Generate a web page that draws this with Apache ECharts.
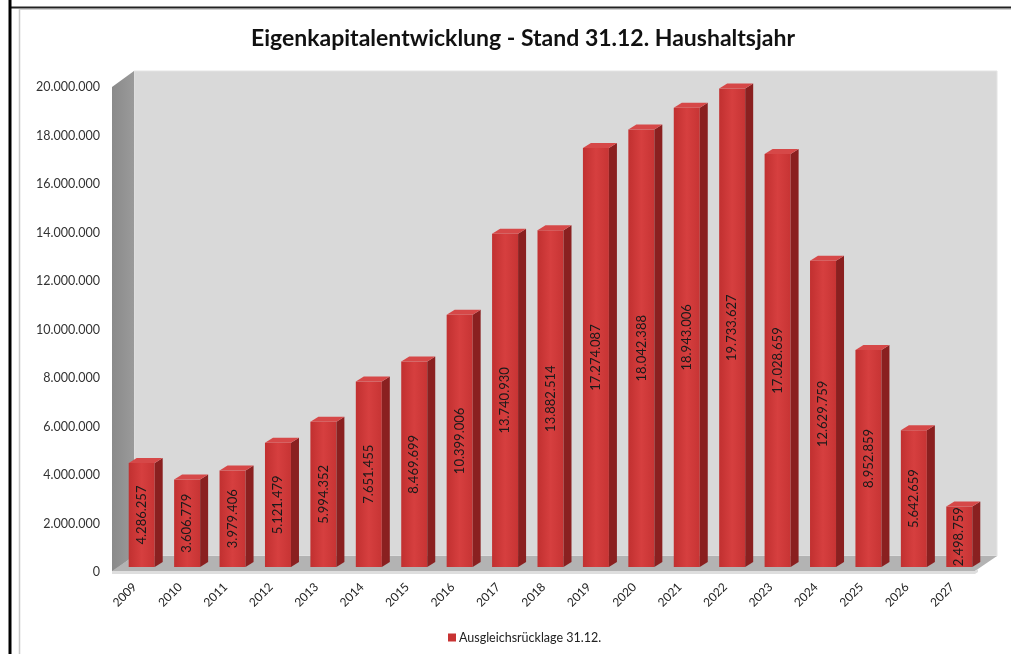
<!DOCTYPE html>
<html>
<head>
<meta charset="utf-8">
<script src="https://cdn.jsdelivr.net/npm/echarts@6/dist/echarts.min.js"></script>
<style>
  html, body { margin: 0; padding: 0; background: #fff; }
  #main { width: 1011px; height: 654px; }
</style>
</head>
<body>
<div id="main"></div>
<script>
var chart = echarts.init(document.getElementById('main'));

var years = ['2009', '2010', '2011', '2012', '2013', '2014', '2015', '2016', '2017', '2018',
  '2019', '2020', '2021', '2022', '2023', '2024', '2025', '2026', '2027'];
var ruecklage = [4286257, 3606779, 3979406, 5121479, 5994352, 7651455, 8469699, 10399006, 13740930, 13882514,
  17274087, 18042388, 18943006, 19733627, 17028659, 12629759, 8952859, 5642659, 2498759];
var yTicks = [0, 2000000, 4000000, 6000000, 8000000, 10000000, 12000000, 14000000, 16000000, 18000000, 20000000];

// german thousand separator
function fmt(v) {
  return String(Math.round(v)).replace(/\B(?=(\d{3})+(?!\d))/g, '.');
}

// depth of the 3d box
var DX = 22, DY = -16;

function renderWalls(params, api) {
  var cs = params.coordSys;
  var x0 = cs.x, x1 = cs.x + cs.width, yT = cs.y, yB = cs.y + cs.height;
  return {
    type: 'group',
    silent: true,
    children: [
      { type: 'rect', shape: { x: x0 + DX, y: yT + DY, width: cs.width, height: cs.height },
        style: { fill: '#d9d9d9', stroke: '#e4e4e4', lineWidth: 1 } },
      { type: 'polygon', shape: { points: [[x0, yT], [x0 + DX, yT + DY], [x0 + DX, yB + DY], [x0, yB]] },
        style: { fill: new echarts.graphic.LinearGradient(0, 0, 1, 0, [
          { offset: 0, color: '#8a8a8a' }, { offset: 1, color: '#9a9a9a' }]) } },
      { type: 'polygon', shape: { points: [[x0, yB - 1], [x1, yB - 1], [x1 + DX, yB + DY], [x0 + DX, yB + DY]] },
        style: { fill: '#b3b3b3' } },
      { type: 'polygon', shape: { points: [[x0, yB - 1], [x1, yB - 1], [x1 + 3, yB - 3], [x1 + 3, yB], [x1, yB + 2], [x0, yB + 2]] },
        style: { fill: '#dedede' } }
    ]
  };
}

function renderBar(params, api) {
  var idx = api.value(0), val = api.value(1);
  var top = api.coord([idx, val]);
  var base = api.coord([idx, 0]);
  var w = 26;
  var ox = 7, oy = -5, dx = 8, dy = -5;
  var xl = top[0] - w / 2 + ox, xr = xl + w;
  var yt = top[1] + oy, yb = base[1] + oy;
  return {
    type: 'group',
    children: [
      { type: 'rect', shape: { x: xl, y: yt, width: w, height: yb - yt },
        style: { fill: new echarts.graphic.LinearGradient(0, 0, 1, 0, [
          { offset: 0, color: '#c13030' }, { offset: 0.5, color: '#d63f3f' }, { offset: 1, color: '#c73434' }]) } },
      { type: 'polygon', shape: { points: [[xr, yt], [xr + dx, yt + dy], [xr + dx, yb + dy], [xr, yb]] },
        style: { fill: '#8a2020' } },
      { type: 'polygon', shape: { points: [[xl, yt], [xl + dx, yt + dy], [xr + dx, yt + dy], [xr, yt]] },
        style: { fill: '#d64848' } },
      { type: 'text', x: xl + w / 2, y: (yt + yb) / 2, rotation: Math.PI / 2,
        style: { text: fmt(val), fontSize: 13, fontFamily: 'Lato', fill: '#1a1a1a',
          align: 'center', verticalAlign: 'middle' } }
    ]
  };
}

var option = {
  animation: false,
  title: {
    text: 'Eigenkapitalentwicklung - Stand 31.12. Haushaltsjahr',
    left: 246, top: 22,
    textStyle: { fontFamily: 'Lato', fontWeight: 'bold', fontSize: 23, color: '#111' }
  },
  legend: {
    data: ['Ausgleichsrücklage 31.12.'],
    left: 443, top: 626,
    icon: 'rect', itemWidth: 8, itemHeight: 8, itemGap: 4,
    textStyle: { fontFamily: 'Lato', fontSize: 12.5, color: '#222', padding: [0, 0, 0, -2] }
  },
  grid: { left: 112, right: 36, top: 87, bottom: 82 },
  xAxis: {
    type: 'category',
    data: years,
    axisLine: { show: false },
    axisTick: { show: false },
    axisLabel: { rotate: 45, fontSize: 12, fontFamily: 'Lato', color: '#222', margin: 13 }
  },
  yAxis: {
    type: 'value',
    min: yTicks[0], max: yTicks[yTicks.length - 1], interval: yTicks[1] - yTicks[0],
    axisLine: { show: false },
    axisTick: { show: false },
    splitLine: { show: false },
    axisLabel: { fontSize: 12.5, fontFamily: 'Lato', color: '#333', margin: 12, formatter: fmt }
  },
  graphic: [
    { type: 'line', shape: { x1: 10, y1: 7.5, x2: 1011, y2: 7.5 }, style: { stroke: '#222', lineWidth: 2 }, z: 100 },
    { type: 'line', shape: { x1: 10, y1: 0, x2: 10, y2: 654 }, style: { stroke: '#000', lineWidth: 3 }, z: 100 },
    { type: 'line', shape: { x1: 19.5, y1: 9, x2: 19.5, y2: 654 }, style: { stroke: '#c8c8c8', lineWidth: 1.5 }, z: 100 },
    { type: 'line', shape: { x1: 19, y1: 9.5, x2: 1011, y2: 9.5 }, style: { stroke: '#d0d0d0', lineWidth: 1 }, z: 100 }
  ],
  series: [
    {
      type: 'custom',
      name: 'walls',
      data: [[0, 0]],
      renderItem: renderWalls,
      silent: true,
      z: 1
    },
    {
      type: 'custom',
      name: 'Ausgleichsrücklage 31.12.',
      itemStyle: { color: '#c83333' },
      data: ruecklage.map(function (v, i) { return [i, v]; }),
      encode: { x: 0, y: 1 },
      renderItem: renderBar,
      z: 2
    }
  ]
};

chart.setOption(option);
</script>
</body>
</html>
